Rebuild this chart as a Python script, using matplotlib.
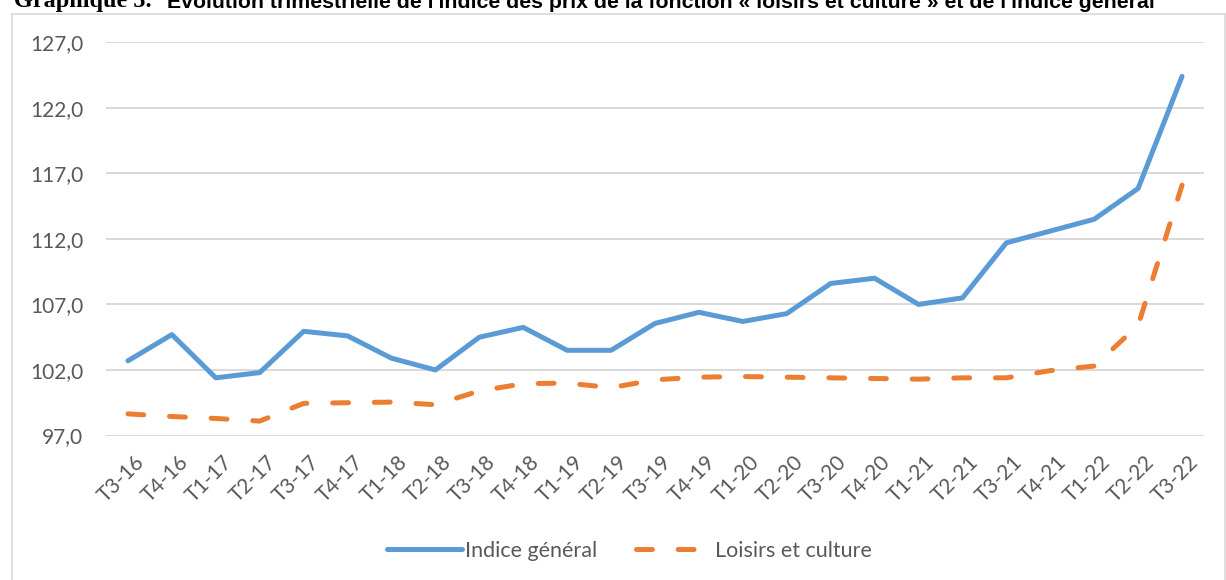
import matplotlib
matplotlib.use("Agg")
import matplotlib.pyplot as plt
import matplotlib.transforms as mtransforms
from matplotlib.lines import Line2D

quarters = ["T3-16", "T4-16", "T1-17", "T2-17", "T3-17", "T4-17", "T1-18", "T2-18",
            "T3-18", "T4-18", "T1-19", "T2-19", "T3-19", "T4-19", "T1-20", "T2-20",
            "T3-20", "T4-20", "T1-21", "T2-21", "T3-21", "T4-21", "T1-22", "T2-22", "T3-22"]
indice_general = [102.7, 104.7, 101.4, 101.8, 104.95, 104.6, 102.9, 102.0,
                  104.5, 105.25, 103.5, 103.5, 105.55, 106.4, 105.7, 106.3,
                  108.6, 109.0, 107.0, 107.5, 111.7, 112.6, 113.5, 115.85, 124.4]
loisirs_culture = [98.65, 98.45, 98.3, 98.1, 99.45, 99.5, 99.55, 99.35,
                   100.4, 100.95, 101.0, 100.65, 101.25, 101.45, 101.5, 101.45,
                   101.4, 101.35, 101.3, 101.4, 101.4, 101.95, 102.3, 105.4, 116.1]
y_ticks = [97.0, 102.0, 107.0, 112.0, 117.0, 122.0, 127.0]
series_names = ["Indice général", "Loisirs et culture"]
title_num = "Graphique 5."
title_txt = "Évolution trimestrielle de l'indice des prix de la fonction « loisirs et culture » et de l'indice général"

BLUE = "#5B9BD5"
ORANGE = "#ED7D31"
GRID = "#D9D9D9"
TXT = "#595959"
FONT = "Lato"
FS = 15

plt.rcParams["lines.scale_dashes"] = False
W, H = 1226, 580
fig = plt.figure(figsize=(W / 100, H / 100), dpi=100)
fig.patch.set_facecolor("white")

fx = lambda px: px / W
fy = lambda py: 1 - py / H

# chart border (light grey)
for xs, ys in [([12, 12], [13.5, 580]), ([12, 1224.5], [13.5, 13.5]), ([1224.5, 1224.5], [13.5, 580])]:
    fig.add_artist(Line2D([fx(v) for v in xs], [fy(v) for v in ys], color=GRID, lw=1.2,
                          transform=fig.transFigure))

ax = fig.add_axes([fx(106), fy(435.5), fx(1204) - fx(106), fy(42.3) - fy(435.5)])
x = list(range(len(quarters)))
ax.plot(x, indice_general, color=BLUE, lw=3.6, solid_capstyle="round",
        solid_joinstyle="round", label=series_names[0], zorder=3)
ax.plot(x, loisirs_culture, color=ORANGE, lw=3.6, dashes=(11.4, 18.6),
        dash_capstyle="round", dash_joinstyle="round", label=series_names[1], zorder=3)

ax.set_xlim(-0.5, len(quarters) - 0.5)
ax.set_ylim(97.0, 127.0)
ax.set_yticks(y_ticks)
ax.set_yticklabels([f"{v:.1f}".replace(".", ",") for v in y_ticks])
ax.set_xticks(x)
ax.set_xticklabels(quarters)
for s in ax.spines.values():
    s.set_visible(False)
ax.grid(axis="y", color=GRID, lw=1.4, zorder=0)
ax.set_axisbelow(True)
ax.tick_params(axis="y", length=0, pad=16.5, labelsize=FS, labelcolor=TXT)
ax.tick_params(axis="x", length=0, pad=12, labelsize=FS, labelcolor=TXT)
for lab in ax.get_yticklabels():
    lab.set_fontfamily(FONT)
offset = mtransforms.ScaledTranslation(6 / 100, 0, fig.dpi_scale_trans)
for lab in ax.get_xticklabels():
    lab.set_fontfamily(FONT)
    lab.set_rotation(45)
    lab.set_ha("right")
    lab.set_va("top")
    lab.set_rotation_mode("anchor")
    lab.set_transform(lab.get_transform() + offset)

leg = fig.legend(loc="center", bbox_to_anchor=(fx(629), fy(550.7)), ncol=2, frameon=False,
                 handlelength=3.5, handletextpad=0.15, columnspacing=1.8,
                 prop={"family": FONT, "size": 15.5})
for t in leg.get_texts():
    t.set_color(TXT)

# title (cropped at the top as in the source)
fig.text(fx(14), fy(7.5), title_num, family="Liberation Serif", weight="bold",
         fontsize=17.5, va="baseline", ha="left", color="black")
fig.text(fx(167), fy(7.5), title_txt, family="Liberation Sans", weight="bold",
         fontsize=15.3, va="baseline", ha="left", color="black")

fig.savefig("out.png", dpi=100, facecolor="white")
